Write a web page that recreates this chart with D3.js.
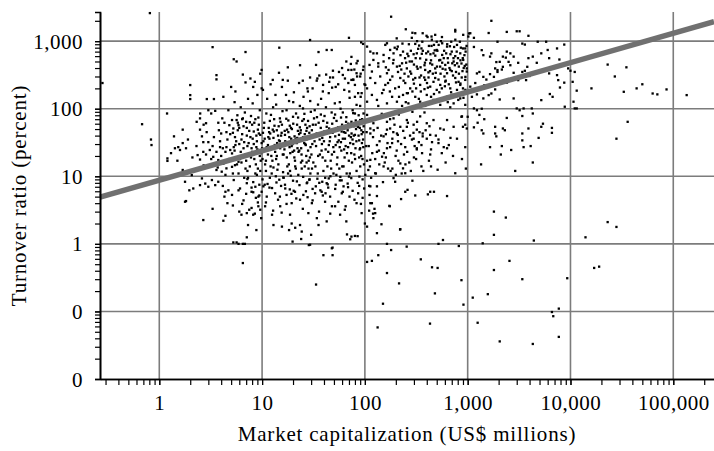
<!DOCTYPE html>
<html>
<head>
<meta charset="utf-8">
<script src="https://cdn.jsdelivr.net/npm/d3@7"></script>
<style>
  body { margin: 0; background: #fff; }
  text { font-family: "Liberation Serif", "Times New Roman", serif; fill: #000; }
</style>
</head>
<body>
<div id="chart"></div>
<script>
// #####################################################
// Data: [market capitalization (US$ millions), turnover ratio (percent)]
//
var capUnder1 = [
  [0.28,240],[0.81,2600],[0.68,59],[0.83,35],[0.84,29]
];

var cap1to10 = [
  [1.19,85],[1.20,18.4],[1.20,16.9],[1.39,39],[1.69,49],[1.69,31],[1.53,27],[1.42,26],[1.59,24.5],[1.82,26],
  [2.31,64],[2.49,72],[2.49,49],[2.89,45],[2.85,61],[2.68,32],[2.36,20.6],[2.49,17.7],[2.68,23],[2.85,21],
  [3.1,24.5],[3.3,28],[3.2,85],[3.5,93],[3.75,62],[3.8,48],[4.0,43],[4.3,62],[4.5,45],[4.8,57],
  [5.1,68],[5.25,51],[5.65,68],[5.45,38],[5.75,80],[5.9,57],[3.9,27],[4.15,26],[4.4,23],[4.5,27],
  [4.9,24.5],[5.1,21.8],[3.35,19.4],[3.75,17.4],[4.2,15.4],[4.7,17.4],[5.1,13.8],[5.45,14.6],[5.9,16.4],[3.6,12.4],
  [4.05,11.7],[4.5,13.1],[1.78,8.3],[1.96,6.2],[2.14,6.6],[1.82,4.3],[2.68,2.25],[3.3,3.3],[3.0,7.0],[3.25,8.8],
  [3.5,7.4],[3.75,8.3],[4.15,7.2],[4.4,5.9],[4.7,6.2],[5.1,5.3],[4.3,5.0],[4.6,4.0],[5.2,3.7],[4.4,2.6],
  [4.2,2.2],[5.25,1.05],[5.65,1.05],[2.31,12.4],[2.07,10.4],[1.69,12.4],[2.6,9.3],[2.8,7.8],[2.49,7.4],[1.78,4.2],
  [6.5,0.52],[6.5,1.0],[5.9,1.0],[6.8,1.0],[7.1,1.25],
  [3.3,815],[3.6,314],[3.6,272],[5.3,540],[2.0,224],[2.0,159],[2.0,139],[2.9,139],[3.4,139],[5.65,500],
  [6.9,690],[6.5,320],[8.5,250],[9.9,375],
  [6.2,105],[6.8,88],[7.3,140],[8.1,120],[9.0,160],[9.5,95],[6.5,72],[7.0,64],[7.8,78],[8.6,70],
  [9.3,58],[5.8,48],[6.4,42],[7.1,52],[7.7,38],[8.3,46],[8.9,33],[9.6,41],[6.0,30],[6.6,26],
  [7.4,31],[8.0,23],[8.8,27],[9.8,22],[5.6,19],[6.3,16],[6.9,21],[7.6,14],[8.4,18],[9.1,13],
  [9.7,17],[5.9,11],[6.7,9.5],[7.2,12],[8.2,8.2],[8.9,10.5],[9.4,7.5],[6.1,6.6],[7.0,5.5],[7.9,6.8],
  [8.7,4.8],[9.9,5.9],[6.4,3.9],[7.5,3.2],[8.5,2.8],[9.2,3.6],[9.8,2.4],[7.3,1.9],[8.8,1.6],[6.9,245],
  [8.2,210],[9.6,330],[7.7,280],[5.5,180],[9.9,200],
  [3.0,32],[3.4,38],[3.9,33],[4.6,35],[4.9,42],[3.2,18],[3.6,23],[4.0,20],[4.8,18],[5.3,27],
  [5.6,33],[5.2,11],[4.4,10.5],[3.7,13.5],[2.7,14.5],[2.3,28],[1.9,35],[2.1,19],[1.5,17],[1.3,22],
  [2.6,39],[4.1,72],[4.7,95],[5.4,125],[3.0,95],[2.5,85],[4.2,150],[5.0,210],[2.7,58],
  [7.1,7.9],[7.9,5.9],[9.2,5.0],[9.1,4.1],[6.3,2.7],[7.1,2.85],[8.2,2.7],[9.6,3.2]
];

var cap10to100 = [
  [10.3,7.1],[11.1,5.0],[10.7,3.6],[12.5,2.7],[12.5,6.7],[13.4,5.6],[14.3,4.5],[15.0,3.6],[17.3,5.3],[19.4,4.0],
  [18.7,2.7],[20.9,5.9],[23.4,4.5],[25.2,5.3],[28.2,2.85],[30.5,4.0],[32.8,5.6],[34.1,2.4],[38,5.9],[41,4.2],
  [42.5,2.15],[45.9,5.0],[51.3,3.6],[57.4,2.7],[59.6,5.6],[65,3.6],[66,2.15],[74,1.28],[80,1.31],[83,4.0],
  [86,5.6],[93,2.85],[24.3,1.52],[19.8,1.08],[30,1.36],[35.4,1.9],[29.3,0.97],[47.7,0.86],[15.6,1.8],[23.4,1.9],
  [12.9,1.9],[62,7.1],[16.7,7.5],[27.2,7.9],[42.5,7.9],[19.4,2.0],
  [33.5,0.25],[39.5,0.68],[48.5,0.68],[48.5,0.88],[28.5,0.96],[24,1.18],[18.3,1.6],[21,1.73],[67,1.38],[85,1.3],[72,1.17],
  [10.5,62],[10.8,24],[11.2,140],[11.5,38],[11.9,9.5],[12.2,81],[12.6,17],[13.0,46],[13.3,29],[13.7,115],
  [14.1,12.5],[14.5,55],[14.9,33],[15.3,7.2],[15.8,92],[16.2,21],[16.7,41],[17.1,160],[17.6,14],[18.0,67],
  [18.5,27],[19.0,10.2],[19.5,50],[20.1,125],[20.6,19],[21.2,36],[21.8,8.4],[22.4,74],[23.0,24],[23.6,44],
  [24.3,13],[25.0,101],[25.7,31],[26.4,58],[27.1,16],[27.9,180],[28.7,39],[29.5,11],
  [10.3,33],[10.9,12],[11.6,52],[12.4,26],[13.1,70],[13.9,20],[14.7,8.9],[15.5,44],[16.4,28],[17.3,95],
  [18.2,15],[19.2,36],[20.3,6.1],[21.4,85],[22.6,23],[23.8,48],[25.1,9.8],[26.6,29],[28.0,66],[29.2,19],
  [10.1,18],[11.0,85],[12.0,43],[12.9,13.5],[14.0,31],[15.1,64],[16.0,11.5],[17.5,49],[18.8,22],[20.0,76],
  [21.0,14],[22.0,37],[23.3,110],[24.6,17],[26.0,42],[27.5,8.1],[29.0,55],
  [10.6,7.5],[11.4,21],[12.8,105],[14.3,40],[16.8,6.6],[18.3,130],[19.8,30],[21.9,58],[24.0,26],[25.5,70],
  [27.0,35],[28.3,13],[29.8,90],
  [10.2,190],[12.1,230],[13.5,160],[15.6,210],[17.8,260],[20.4,175],[22.9,240],[25.3,150],[27.6,200],[29.4,130],
  [30.5,48],[31.5,16],[32.5,95],[33.5,28],[34.5,9.2],[35.5,62],[36.5,21],[37.5,140],[38.5,37],[39.5,12],
  [40.5,78],[41.5,25],[42.5,54],[43.5,7.6],[44.5,170],[45.5,33],[46.5,17],[47.5,88],[48.5,44],[49.5,11],
  [51,120],[52,29],[53,66],[54,19],[55,230],[56,41],[57,8.7],[58,100],[59,24],[60,58],
  [62,14],[63,190],[64,36],[66,75],[67,22],[68,48],[70,9.9],[71,145],[72,31],[74,64],
  [75,16],[77,270],[78,40],[80,85],[81,26],[83,12],[85,55],[86,170],[88,34],[90,110],
  [92,20],[94,70],[96,45],[98,15],[99,230],
  [30.8,30],[32,72],[33,14],[34,43],[35,115],[36,8],[37.2,52],[38.8,19],[40,33],[41.8,105],
  [43,62],[44,23],[46,47],[47,13],[48,205],[50,73],[51.5,39],[53.5,15],[55,53],[57,125],
  [58.5,32],[61,88],[62.5,45],[65,28],[66.5,11],[69,60],[70.5,180],[73,38],[76,95],[79,21],
  [82,50],[84,300],[87,80],[89,25],[91,150],[93,42],[95,9],[97,85],
  [31,200],[34,260],[36,310],[39,180],[42,320],[45,250],[49,290],[52,210],[56,350],[60,400],
  [64,280],[69,240],[73,460],[79,380],[85,510],[91,330],[97,420],
  [31,6.5],[39,5.2],[44,6.8],[52,7.5],[61,5.9],[68,7.8],[76,6.1],[88,7.2],[95,4.8],
  [12.7,267],[14.6,340],[14.7,800],[15.9,267],[17.8,410],[23.4,440],[24.9,260],[29.3,1040],[29.3,290],[33.5,445],
  [35.4,690],[34.5,280],[39.2,225],[42.5,740],[45.9,290],[47.6,740],[48.9,365],[61,316],[66,500],[69,375],
  [70,1120],[74,585],[74,267],[80,225],[92,960],[96,375],[96,910],[83,470],[83,335],[74,375],
  [77,267],[90,300],[80,150],[93,170],[83,114],[77,86],[90,68],[86,54],[80,41],[96,35],[90,26]
];

// the dark core of the cloud, small and mid caps around the line
var coreSmall = [
  [5.2,44],[5.5,29],[5.8,62],[6.1,18],[6.3,35],[6.6,55],[6.9,13],[7.2,28],[7.5,47],[7.8,19],
  [8.1,36],[8.4,62],[8.7,15],[9.0,25],[9.3,43],[9.6,12],[9.9,31],[10.4,52],[10.9,17],[11.4,29],
  [11.9,66],[12.4,11],[12.9,37],[13.4,23],[13.9,48],[14.4,15],[15.0,26],[15.6,58],[16.2,9.5],[16.8,33],
  [17.4,19],[18.0,45],[18.7,12],[19.4,28],[20.1,60],[20.9,17],[21.7,31],[22.5,10.5],[23.3,53],[24.2,21],
  [25.1,38],[26.0,14],[27.0,47],[28.0,24],[29.0,9],
  [5.4,24],[6.0,52],[6.7,32],[7.3,9.5],[8.0,58],[8.8,40],[9.5,20],[10.2,44],[11.1,27],[12.1,14],
  [13.2,56],[14.6,34],[15.9,21],[17.2,71],[18.4,38],[19.8,23],[21.3,13],[22.9,42],[24.6,66],[26.3,30],[28.4,17],
  [5.7,15],[6.4,70],[7.1,40],[7.9,26],[8.6,11],[9.2,74],[10.0,26],[10.7,15],[11.8,36],[12.7,49],
  [13.7,18],[14.9,72],[16.5,25],[17.9,11],[19.1,52],[20.7,39],[22.1,26],[23.9,16],[25.8,84],[27.4,52],[29.6,27],
  [6.2,23],[7.0,17],[7.6,63],[8.3,30],[9.1,49],[10.6,36],[11.7,45],[12.3,20],[13.6,10],[15.3,40],
  [16.6,47],[18.6,56],[20.5,24],[22.3,47],[24.8,36],[26.9,20],[28.8,44]
];

// the lower fringe of the core, turnover 2.5 to 10 percent
var coreLow = [
  [5.3,8.8],[5.9,6.2],[6.6,4.4],[7.2,9.1],[7.9,3.4],[8.6,7.0],[9.4,5.2],[10.1,9.0],[10.9,4.1],[11.8,6.8],
  [12.8,3.1],[13.8,8.1],[14.9,5.0],[16.1,9.6],[17.3,3.9],[18.6,6.4],[20.0,8.6],[21.5,4.7],[23.1,7.4],[24.9,3.3],
  [26.7,6.0],[28.8,8.9],[31.0,4.4],[33.3,7.1],[35.8,3.0],[38.5,8.3],[41.4,5.6],[44.5,9.3],[47.8,3.6],[51.4,6.5],
  [55.2,4.2],[59.4,8.7],[63.8,3.2],[68.6,6.9],[73.7,9.4],[79.2,4.5],[85.1,8.0],[91.5,3.9],[98.3,6.6],
  [6.0,3.0],[8.2,5.8],[11.3,7.7],[15.5,2.9],[19.3,5.5],[27.7,4.9],[36.9,6.2],[46.0,2.8],[57.7,9.8],[70.9,5.0],[88.4,9.9]
];

var coreMid = [
  [30.2,21],[31.7,40],[33.2,58],[34.8,11],[36.3,35],[37.9,24],[39.4,66],[41.2,17],[42.8,44],[44.6,29],
  [46.2,10],[48.1,60],[50.2,23],[52.3,47],[54.2,32],[56.4,13],[58.6,74],[61.0,36],[63.5,19],[66.2,52],
  [68.7,27],[71.4,11],[74.2,43],[77.1,30],[80.3,18],[83.4,63],[86.8,40],[90.1,14],[93.6,31],[97.2,55],
  [30.6,13],[32.4,33],[35.1,20],[37.3,82],[40.3,46],[43.2,14],[45.9,38],[49.3,27],[52.8,10.5],[55.7,34],
  [59.4,46],[62.8,25],[65.6,64],[70.1,40],[73.6,22],[78.5,55],[82.7,33],[87.9,19],[92.4,48],[96.5,27],
  [31.2,58],[34.2,75],[38.2,30],[41.1,9.5],[44.9,51],[47.8,21],[51.3,82],[56.9,27],[60.2,14],[64.7,44],
  [69.8,17],[75.8,35],[81.5,67],[89.2,52],[94.8,18],
  [104,45],[109,28],[115,66],[120,38],[126,18],[133,52],[139,33],[146,84],[153,22],[160,42],
  [168,13],[176,70],[185,36],[194,58],[204,24],[214,82],[225,30],[236,47],[248,15],[262,62],
  [275,40],[290,90],[305,28],[322,64],[340,45],[360,22],[380,88],[400,36],[425,55],[450,32],
  [103,28],[112,14],[122,48],[128,11],[137,24],[144,40],[156,16],[166,31],[178,12],[189,45],
  [199,20],[210,33],[228,11],[244,37],[258,23],[280,12],[297,44],[315,18],[335,32],[370,12],
  [390,48],[440,14],[490,40],[560,22],[680,37]
];

var cap100to1k = [
  [250,1500],[290,1330],[365,1310],[407,1150],[483,1240],[757,1470],[905,1240],[309,1310],[180,2300],[445,1170],
  [565,930],[757,1390],
  [158,880],[176,741],[209,830],[235,700],[309,910],[355,780],[395,660],[445,850],[500,741],[565,625],
  [630,830],[700,700],[787,880],[847,660],[947,780],[152,625],[190,660],[265,600],[320,660],[465,660],
  [757,600],[131,660],[113,700],[105,830],[121,660],[135,470],[164,930],
  [111,445],[121,527],[135,420],[152,500],[170,375],[190,527],[205,420],[230,470],[256,395],[287,500],
  [320,420],[345,555],[386,375],[432,470],[483,395],[541,527],[605,445],[677,375],[730,500],[820,420],
  [905,527],[980,355],[117,355],[164,335],[276,355],[415,345],[630,335],
  [101,225],[113,285],[126,240],[141,300],[158,225],[176,267],[197,200],[221,285],[247,240],[276,200],
  [309,285],[345,225],[386,267],[432,212],[483,285],[541,225],[605,252],[677,200],[757,285],[847,225],
  [947,267],[105,200],[152,190],[265,300],[500,190],[787,190],
  [105,127],[117,160],[131,135],[147,170],[164,120],[184,150],[205,127],[235,160],[265,120],[309,150],
  [345,127],[400,160],[465,135],[541,114],[630,150],[730,120],[847,142],[947,114],[135,110],[230,110],
  [386,110],[677,105],
  [105,81],[121,61],[141,77],[164,64],[190,72],[221,54],[256,68],[298,58],[345,77],[400,61],
  [465,68],[541,51],[630,68],[730,54],[880,77],[947,58],[113,51],[176,51],[320,49],[585,49],
  [113,43],[131,29],[152,39],[184,31],[209,41],[247,27],[298,36],[355,29],[432,41],[520,31],
  [630,26],[787,36],[947,27],[164,26],[320,25],
  [110,7.2],[131,7.1],[111,5.3],[131,5.1],[113,4.0],[124,3.3],[126,2.85],[173,3.65],[145,1.95],[197,8.3],
  [225,4.6],[260,6.3],[309,5.2],[410,5.4],[470,5.9],[630,5.1],[221,1.65],[164,1.0],[180,0.81],[105,0.54],
  [117,0.56],[135,0.68],[164,0.37],[215,0.26],[255,0.91],[350,0.59],[450,0.45],[510,0.44],[820,0.93],[870,0.29],
  [910,0.126],[480,0.185],[430,0.066],[150,0.13],[133,0.058],[575,1.14],[520,1.0],[220,1.63],[175,3.6],[120,2.8],
  [110,3.1],[100,2.0],[105,1.8],
  [176,27],[221,15.5],[235,13.1],[247,11.1],[320,26],[365,39],[365,43],[432,21],[440,25],[520,35],
  [585,27],[655,29],[757,11.1],[432,5.9],[247,5.9],[152,14],[147,19.5],[113,17.5],[131,23],[126,11.1],
  [108,12.4],[190,9.4],[205,43],[256,54],[287,35],[164,49],
  [105,17],[118,22],[138,15],[160,19],[185,13],[212,17],[240,21],[270,16],[300,19],[355,14],
  [420,17],[510,12.5],[610,16],[720,20],[880,18],[960,13],[115,9.5],[150,8.2],[200,10.5],[290,8.6],
  [101,10.5],[113,7.1],[117,4.0],[121,2.4],[131,1.44],
  [900,780],[870,467],[980,395],[950,296],[850,236],[900,200],[870,76],[900,54],[980,51]
];

// the dense upper cluster of larger caps
var coreLarge = [
  [160,410],[172,560],[185,300],[195,800],[210,350],[222,620],[238,260],[252,480],[268,900],[282,330],
  [298,640],[315,200],[330,770],[348,410],[362,980],[378,290],[395,530],[412,700],[430,360],[448,1050],
  [465,250],[484,610],[503,420],[522,880],[545,330],[565,480],[590,720],[612,260],[640,560],[665,400],
  [692,980],[720,310],[750,440],[782,700],[815,250],[850,520],[890,360],[930,620],[970,450],
  [168,240],[188,470],[204,1100],[226,380],[246,560],[262,170],[280,720],[300,450],[322,1000],[340,290],
  [358,650],[380,440],[402,240],[420,850],[440,520],[458,330],[478,730],[500,980],[520,270],[540,420],
  [562,1150],[585,560],[608,380],[632,900],[655,230],[680,640],[708,470],[738,820],[770,350],[805,560],
  [840,980],[875,290],[915,400],[955,700],
  [175,180],[214,210],[256,170],[300,235],[350,180],[410,205],[470,165],[530,175],[600,215],[690,175],
  [770,245],[860,170],[950,190],
  [205,760],[218,430],[232,920],[243,330],[259,650],[273,500],[286,1120],[295,270],[312,560],[326,390],
  [337,860],[352,310],[366,720],[384,480],[398,1200],[416,290],[434,640],[452,450],[470,880],[489,340],
  [507,720],[528,520],[549,1000],[571,390],[594,300],[618,660],[645,480],[672,840],[700,360],[728,560],
  [758,1050],[790,470],[822,330],[858,800],[896,560],[936,430],[975,850],
  [215,150],[250,125],[290,180],[335,140],[380,195],[440,150],[505,130],[560,200],[640,125],[720,160],
  [810,135],[910,145]
];

var cap1kto10k = [
  [1700,2000],[1600,1320],[2400,1370],[3000,1400],[3200,1400],[3900,1200],[1030,1300],[1150,1120],[1950,980],[4800,980],
  [5800,980],[8700,890],[7400,780],[5200,660],[6000,740],[3400,920],[3600,890],[2400,700],[2600,660],[2200,590],
  [2350,570],[1900,490],[3900,560],[4300,590],[6200,560],[7800,535],[9500,395],[5200,54],[6600,52],[6600,44],
  [4300,16],[4100,28],[2650,24.5],[2150,28],[2100,21],[1650,27],[3400,34],[1850,43],[1900,39],[1370,48],
  [1420,43],[2300,48],[2400,73],[3400,78],[4300,85],[4200,101],[3500,101],[5200,134],[6300,165],[6700,150],
  [7900,206],[7600,265],[7400,314],[6200,333],[8700,243],[6300,390],[3800,417],[3600,364],[4700,478],[1150,101],
  [1230,95],[1370,100],[1100,150],[1000,76],[1250,62],[1300,81],[1450,70],[1150,53],[1850,54],[2200,51],
  [3000,101],[3200,95],[2800,142],[2050,137],[1700,168],[1600,159],[1850,193],[2400,243],[2600,265],[3100,265],
  [3700,265],[4000,305],[3400,350],[2800,340],[1950,350],[2150,380],[1650,325],[1800,296],[1420,296],[1520,270],
  [1300,350],[1230,333],[1850,395],[1950,373],[2200,417],[2600,440],[2500,494],[3100,478],[2800,590],[2050,494],
  [1650,590],[1700,660],[1370,736],[1420,620],[1150,820],[1200,190],[1230,163],[1420,142],[1450,222],[3900,51],
  [5400,60],[3500,27],[3400,43],[4900,37],[8800,107],[1015,1170],[1060,1310],[1060,212],[1185,240],
  [1800,3.0],[2350,2.45],[1800,1.36],[1400,1.02],[4400,1.12],[2550,0.56],[1800,0.41],[3400,0.30],[1570,0.18],[1120,0.16],
  [9300,0.31],[7700,0.11],[6600,0.098],[6800,0.085],[1250,0.068],[2050,0.036],[4300,0.033],[7700,0.042],
  [1350,15],[2900,12]
];

var capOver10k = [
  [14000,1.25],[23000,2.1],[28000,1.78],[17000,0.44],[19000,0.46],[11000,350],[10500,250],[11500,185],[10700,127],[11500,101],
  [16000,200],[23000,450],[35000,410],[27000,300],[33000,178],[44000,200],[50000,230],[63000,168],[70000,163],[86000,193],
  [135000,159],[36000,64],[28000,36],[11000,101],[10000,365]
];

// fitted line, read at both ends of the plot
var fitLine = [[0.265, 4.9], [249000, 1950]];

var xTickValues = [1, 10, 100, 1000, 10000, 100000];
var xTickLabels = ["1", "10", "100", "1,000", "10,000", "100,000"];
var yTickValues = [0.01, 0.1, 1, 10, 100, 1000];
var yTickLabels = ["0", "0", "1", "10", "100", "1,000"];

// #####################################################
// Plot
//
var width = 714, height = 451;
var margin = {left: 100, right: 714, top: 12, bottom: 379};

var svg = d3.select("#chart").append("svg")
    .attr("width", width)
    .attr("height", height);

var x = d3.scaleLog().domain([0.265, 249000]).range([margin.left, margin.right]);
var y = d3.scaleLog().domain([0.01, 2700]).range([margin.bottom, margin.top]);

// minor ticks 1..9 in every decade
function minorTicks(scale) {
  var dom = scale.domain(), out = [];
  for (var e = -3; e <= 6; e++) {
    for (var m = 1; m < 10; m++) {
      var v = m * Math.pow(10, e);
      if (v >= dom[0] * 0.999 && v <= dom[1] * 1.001) out.push(v);
    }
  }
  return out;
}

// grid
var grid = svg.append("g")
    .attr("stroke", "#7c7c7c")
    .attr("stroke-width", 1.6);

grid.selectAll("line.v")
    .data(xTickValues)
    .join("line")
      .attr("class", "v")
      .attr("x1", function(d) { return x(d); })
      .attr("x2", function(d) { return x(d); })
      .attr("y1", margin.top)
      .attr("y2", margin.bottom);

grid.selectAll("line.h")
    .data(yTickValues.filter(function(d) { return d > 0.01; }))
    .join("line")
      .attr("class", "h")
      .attr("x1", margin.left)
      .attr("x2", margin.right)
      .attr("y1", function(d) { return y(d); })
      .attr("y2", function(d) { return y(d); });

// points
var firms = [].concat(capUnder1, cap1to10, cap10to100, coreSmall, coreLow, coreMid,
                      cap100to1k, coreLarge, cap1kto10k, capOver10k);

svg.append("g")
  .selectAll("rect")
  .data(firms)
  .join("rect")
    .attr("x", function(d) { return x(d[0]) - 1.15; })
    .attr("y", function(d) { return y(d[1]) - 1.15; })
    .attr("width", 2.3)
    .attr("height", 2.3)
    .attr("fill", "#000");

// fitted line
svg.append("path")
    .datum(fitLine)
    .attr("fill", "none")
    .attr("stroke", "#707070")
    .attr("stroke-width", 5.5)
    .attr("d", d3.line()
      .x(function(d) { return x(d[0]); })
      .y(function(d) { return y(d[1]); }));

// x axis
var xAxis = svg.append("g")
    .attr("transform", "translate(0," + margin.bottom + ")")
    .call(d3.axisBottom(x).tickValues(minorTicks(x)).tickFormat("").tickSizeInner(6).tickSizeOuter(0));

var xMajor = svg.append("g")
    .attr("transform", "translate(0," + margin.bottom + ")")
    .call(d3.axisBottom(x).tickValues(xTickValues)
      .tickFormat(function(d, i) { return xTickLabels[i]; })
      .tickSizeInner(6).tickSizeOuter(0).tickPadding(10));

// y axis
var yAxis = svg.append("g")
    .attr("transform", "translate(" + margin.left + ",0)")
    .call(d3.axisLeft(y).tickValues(minorTicks(y)).tickFormat("").tickSizeInner(5).tickSizeOuter(5));

var yMajor = svg.append("g")
    .attr("transform", "translate(" + margin.left + ",0)")
    .call(d3.axisLeft(y).tickValues(yTickValues)
      .tickFormat(function(d, i) { return yTickLabels[i]; })
      .tickSizeInner(5).tickSizeOuter(0).tickPadding(12));

[xAxis, xMajor, yAxis, yMajor].forEach(function(g) {
  g.selectAll("path.domain").attr("stroke", "#000").attr("stroke-width", 1.6);
  g.selectAll(".tick line").attr("stroke", "#000").attr("stroke-width", 1.2);
  g.selectAll(".tick text")
    .style("font-family", "'Liberation Serif', 'Times New Roman', serif")
    .style("font-size", "21px")
    .style("letter-spacing", "0.5px")
    .attr("fill", "#000");
});
yMajor.selectAll(".tick text").attr("dy", "0.34em");

// titles
svg.append("text")
    .attr("x", (margin.left + margin.right) / 2)
    .attr("y", 441)
    .attr("text-anchor", "middle")
    .style("font-size", "21px")
    .style("letter-spacing", "0.8px")
    .text("Market capitalization (US$ millions)");

svg.append("text")
    .attr("transform", "translate(26," + ((margin.top + margin.bottom) / 2) + ") rotate(-90)")
    .attr("text-anchor", "middle")
    .style("font-size", "21px")
    .style("letter-spacing", "0.8px")
    .text("Turnover ratio (percent)");
</script>
</body>
</html>
